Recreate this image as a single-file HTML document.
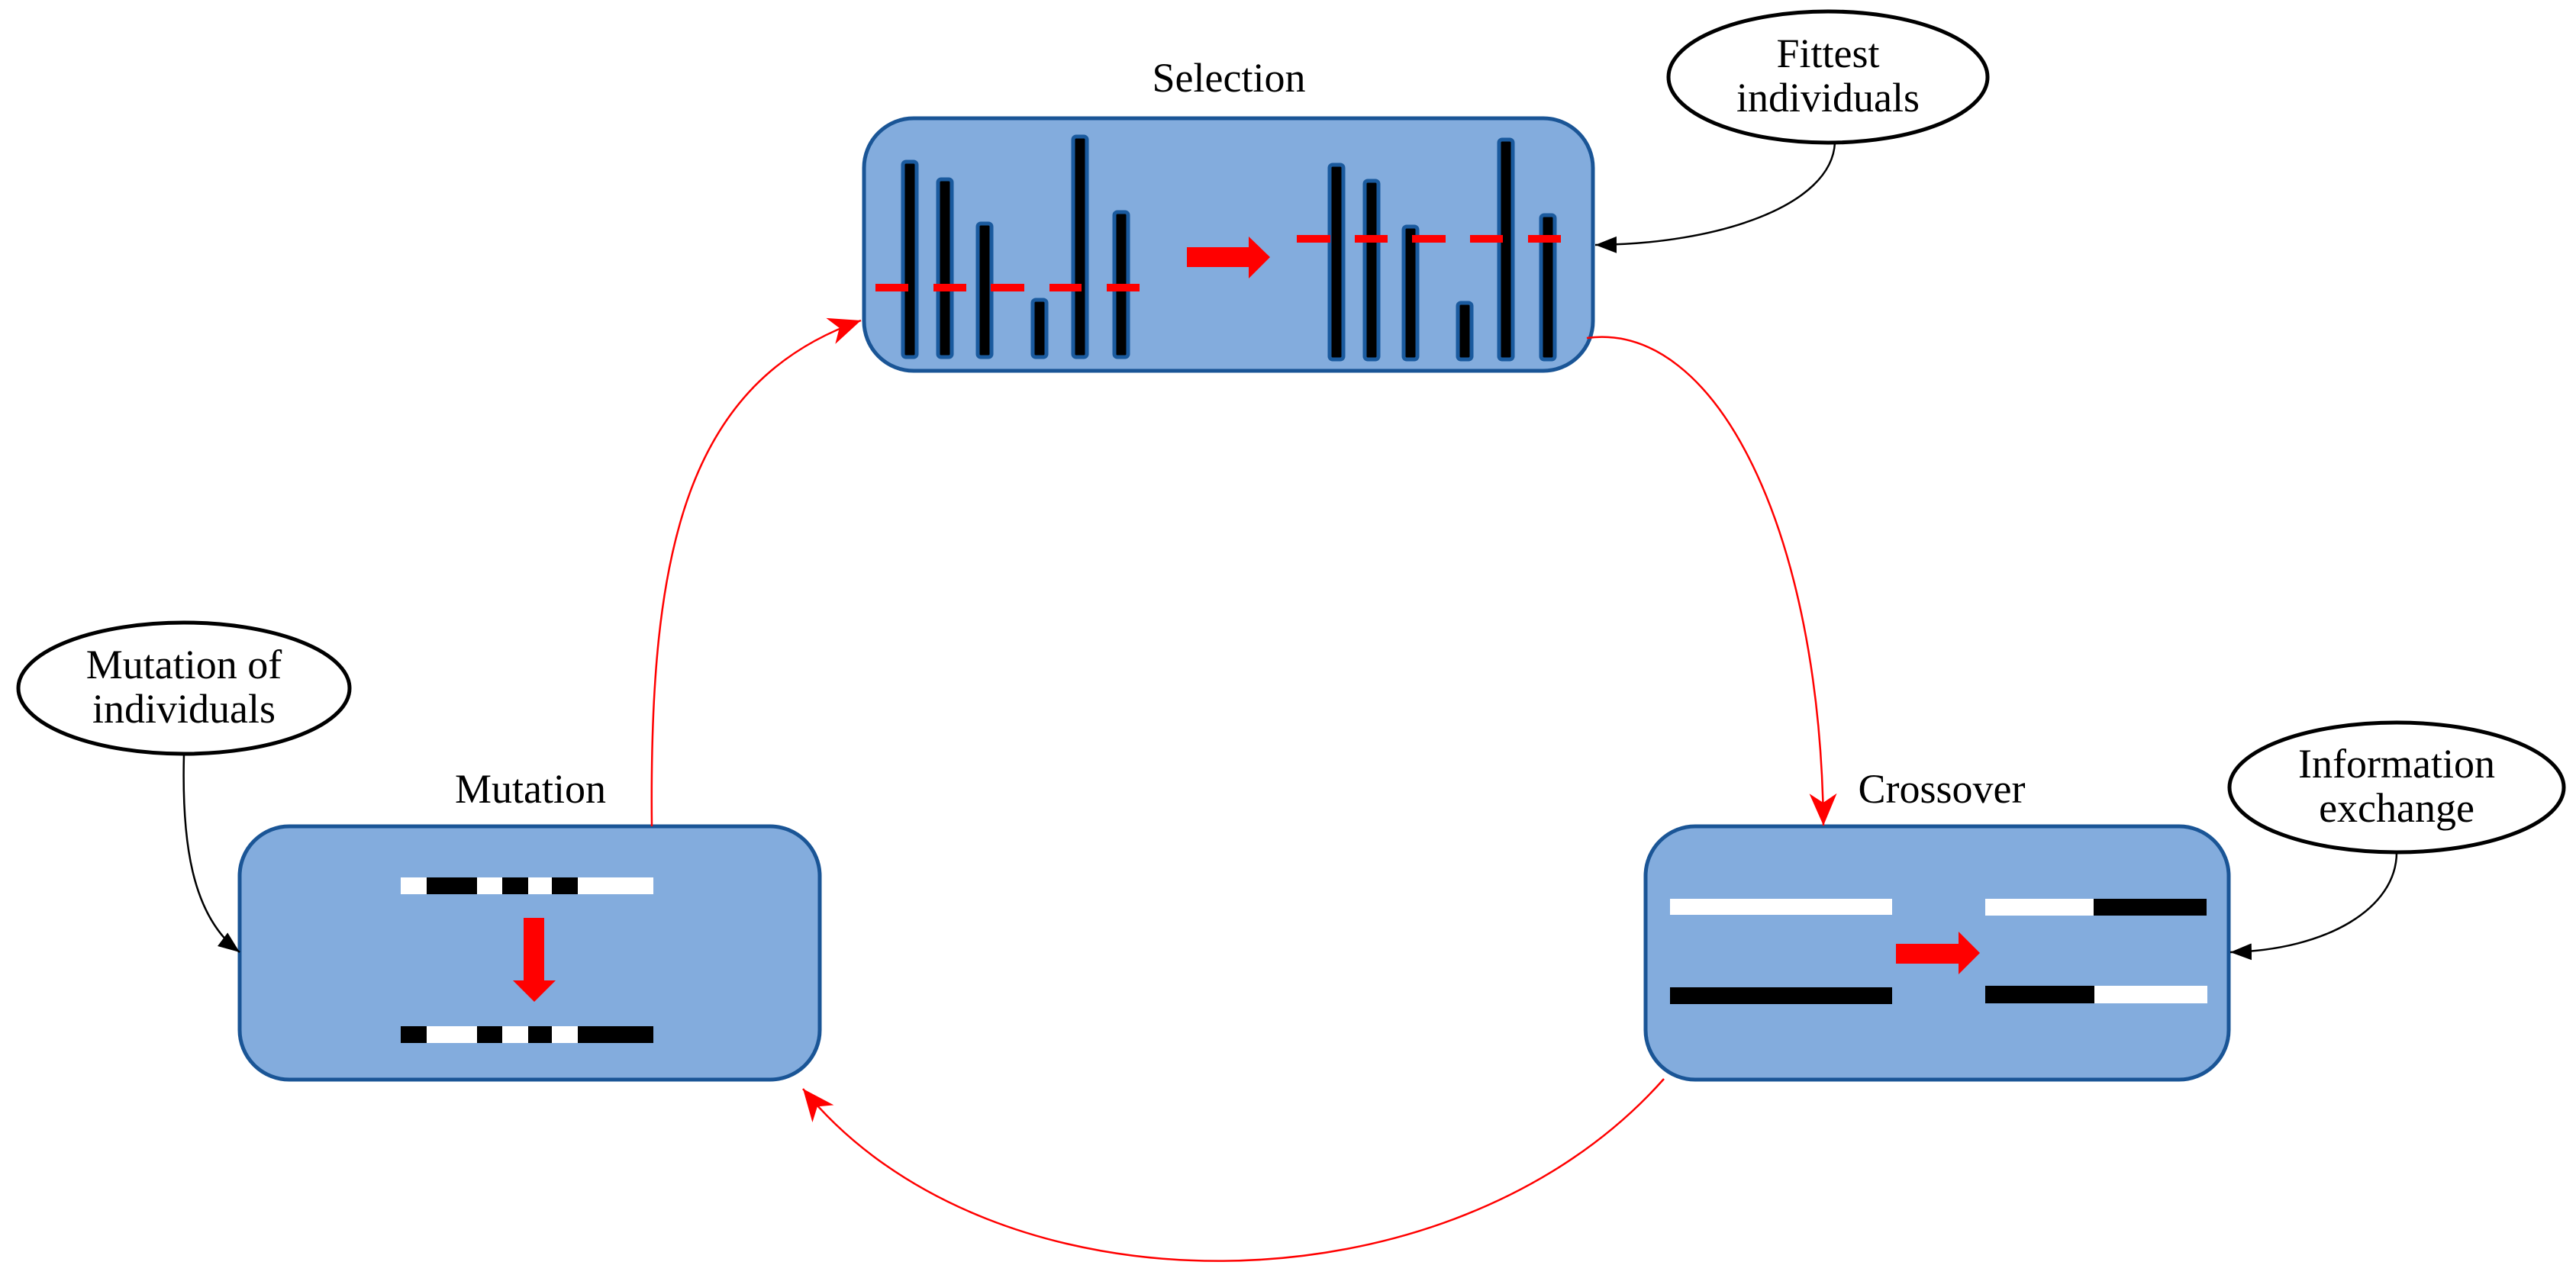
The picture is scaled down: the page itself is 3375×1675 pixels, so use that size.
<!DOCTYPE html>
<html><head><meta charset="utf-8"><style>
html,body{margin:0;padding:0;background:#fff;}
svg{display:block;}
text{font-family:"Liberation Serif",serif;fill:#000;}
</style></head><body>
<svg width="3375" height="1675" viewBox="0 0 3375 1675" xmlns="http://www.w3.org/2000/svg">
<defs>
<marker id="ra" markerUnits="userSpaceOnUse" markerWidth="44" markerHeight="40" refX="42" refY="20" orient="auto">
<path d="M0,2 L42,20 L0,38 L12,20 z" fill="#ff0000"/>
</marker>
<marker id="ba" markerUnits="userSpaceOnUse" markerWidth="30" markerHeight="30" refX="28" refY="15" orient="auto">
<path d="M0,4 L28,15 L0,26 z" fill="#000"/>
</marker>
</defs>

<rect x="1132" y="155" width="955" height="331" rx="65" ry="65" fill="#83acdd" stroke="#1a5596" stroke-width="5"/>
<text x="1610" y="120" font-size="54" text-anchor="middle">Selection</text>
<g fill="#000" stroke="#1a5a9e" stroke-width="5">
<rect x="1183" y="212" width="18" height="256" rx="4"/>
<rect x="1229" y="235" width="18" height="233" rx="4"/>
<rect x="1281" y="293" width="18" height="175" rx="4"/>
<rect x="1353" y="393" width="18" height="75" rx="4"/>
<rect x="1406" y="179" width="18" height="289" rx="4"/>
<rect x="1460" y="278" width="18" height="190" rx="4"/>
<rect x="1742" y="216" width="18" height="255" rx="4"/>
<rect x="1788" y="237" width="18" height="234" rx="4"/>
<rect x="1839" y="297" width="18" height="174" rx="4"/>
<rect x="1910" y="397" width="18" height="74" rx="4"/>
<rect x="1964" y="183" width="18" height="288" rx="4"/>
<rect x="2019" y="282" width="18" height="189" rx="4"/>
</g>
<g fill="#ff0000">
<rect x="1147" y="372" width="43" height="10"/>
<rect x="1223" y="372" width="43" height="10"/>
<rect x="1298" y="372" width="44" height="10"/>
<rect x="1375" y="372" width="42" height="10"/>
<rect x="1450" y="372" width="43" height="10"/>
<rect x="1699" y="308" width="44" height="10"/>
<rect x="1775" y="308" width="43" height="10"/>
<rect x="1850" y="308" width="44" height="10"/>
<rect x="1926" y="308" width="43" height="10"/>
<rect x="2002" y="308" width="43" height="10"/>
<path d="M1555,324 L1636,324 L1636,310 L1664,337 L1636,365 L1636,350 L1555,350 z"/>
</g>

<ellipse cx="2395" cy="101" rx="209" ry="86" fill="#fff" stroke="#000" stroke-width="5"/>
<text x="2395" y="88" font-size="54" text-anchor="middle">Fittest</text>
<text x="2395" y="146" font-size="54" text-anchor="middle">individuals</text>
<path d="M2404,187 C2400,270 2250,320 2090,321" fill="none" stroke="#000" stroke-width="2.5" marker-end="url(#ba)"/>

<rect x="314" y="1083" width="760" height="332" rx="65" ry="65" fill="#83acdd" stroke="#1a5596" stroke-width="5"/>
<text x="695" y="1052" font-size="54" text-anchor="middle">Mutation</text>
<rect x="525" y="1150" width="331" height="22" fill="#fff"/>
<rect x="559" y="1150" width="66" height="22" fill="#000"/>
<rect x="658" y="1150" width="34" height="22" fill="#000"/>
<rect x="723" y="1150" width="34" height="22" fill="#000"/>
<rect x="525" y="1345" width="331" height="22" fill="#000"/>
<rect x="559" y="1345" width="66" height="22" fill="#fff"/>
<rect x="658" y="1345" width="34" height="22" fill="#fff"/>
<rect x="723" y="1345" width="34" height="22" fill="#fff"/>
<path d="M686,1203 L713,1203 L713,1285 L728,1285 L700,1313 L672,1285 L686,1285 z" fill="#ff0000"/>

<ellipse cx="241" cy="902" rx="217" ry="86" fill="#fff" stroke="#000" stroke-width="5"/>
<text x="241" y="889" font-size="54" text-anchor="middle">Mutation of</text>
<text x="241" y="947" font-size="54" text-anchor="middle">individuals</text>
<path d="M241,988 C238,1100 250,1200 314,1248" fill="none" stroke="#000" stroke-width="2.5" marker-end="url(#ba)"/>

<rect x="2156" y="1083" width="764" height="332" rx="65" ry="65" fill="#83acdd" stroke="#1a5596" stroke-width="5"/>
<text x="2544" y="1052" font-size="54" text-anchor="middle">Crossover</text>
<rect x="2188" y="1178" width="291" height="21" fill="#fff"/>
<rect x="2188" y="1294" width="291" height="22" fill="#000"/>
<rect x="2601" y="1178" width="142" height="22" fill="#fff"/>
<rect x="2743" y="1178" width="148" height="22" fill="#000"/>
<rect x="2601" y="1292" width="143" height="23" fill="#000"/>
<rect x="2744" y="1292" width="148" height="23" fill="#fff"/>
<path d="M2484,1237 L2566,1237 L2566,1221 L2594,1249 L2566,1277 L2566,1263 L2484,1263 z" fill="#ff0000"/>

<ellipse cx="3140" cy="1032" rx="219" ry="85" fill="#fff" stroke="#000" stroke-width="5"/>
<text x="3140" y="1019" font-size="54" text-anchor="middle">Information</text>
<text x="3140" y="1077" font-size="54" text-anchor="middle">exchange</text>
<path d="M3140,1117 C3140,1190 3050,1245 2922,1248" fill="none" stroke="#000" stroke-width="2.5" marker-end="url(#ba)"/>

<path d="M854,1083 C850,720 900,500 1128,420" fill="none" stroke="#ff0000" stroke-width="2.5" marker-end="url(#ra)"/>
<path d="M2079,443 C2250,420 2385,700 2389,1082" fill="none" stroke="#ff0000" stroke-width="2.5" marker-end="url(#ra)"/>
<path d="M2180,1414 C1900,1730 1297,1730 1052,1427" fill="none" stroke="#ff0000" stroke-width="2.5" marker-end="url(#ra)"/>
</svg>
</body></html>
